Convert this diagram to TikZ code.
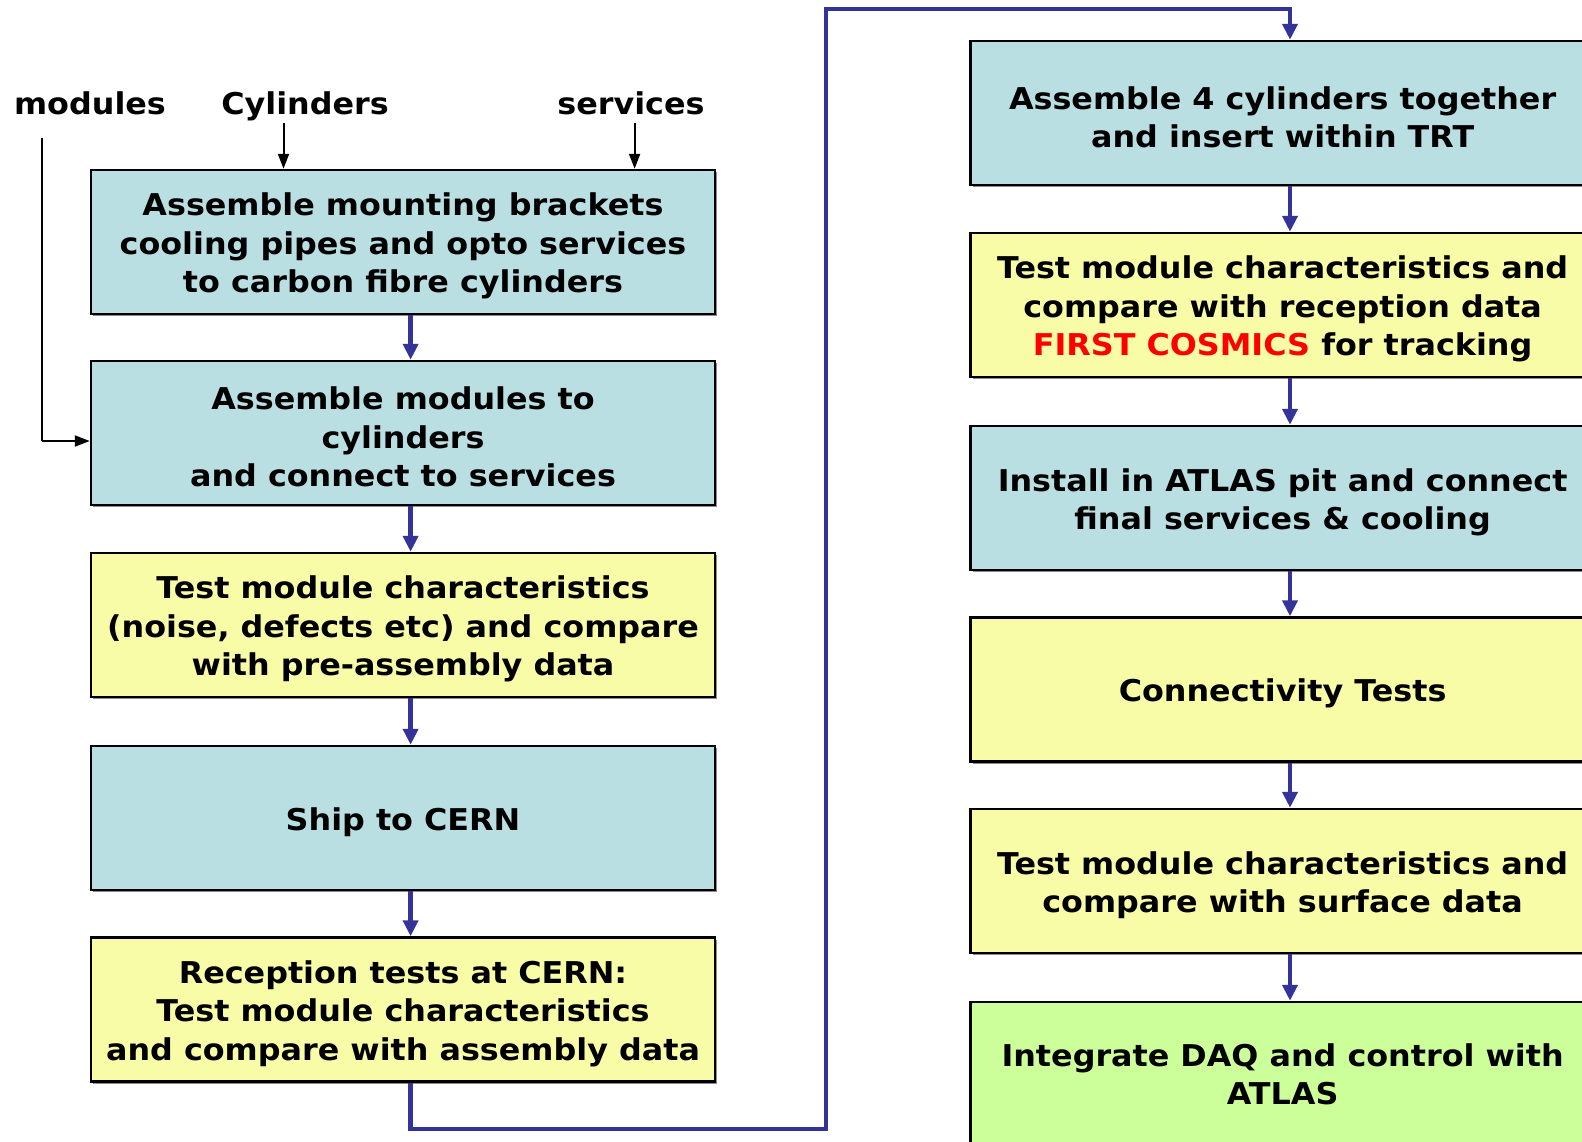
\documentclass[tikz,border=0pt]{standalone}
\usepackage{fontspec}
\setmainfont{DejaVu Sans}[FakeStretch=1.06]
\usetikzlibrary{arrows.meta,shadows,calc}
\definecolor{boxblue}{RGB}{186,223,227}
\definecolor{boxyellow}{RGB}{248,252,166}
\definecolor{boxgreen}{RGB}{204,255,153}
\definecolor{flowblue}{RGB}{51,51,153}
\definecolor{cosmicred}{RGB}{255,0,0}
\newcommand\topstrut{\rule{0pt}{31pt}}
\tikzset{
  stepbox/.style={draw=black, line width=2.5pt, minimum width=624pt, minimum height=144pt,
    inner sep=0pt, align=center, font=\bfseries\fontsize{30}{38.4}\selectfont,
    drop shadow={shadow xshift=2pt, shadow yshift=-2pt, fill=black!45, opacity=1}},
  bluebox/.style={stepbox, fill=boxblue},
  yellowbox/.style={stepbox, fill=boxyellow},
  greenbox/.style={stepbox, fill=boxgreen},
  inlabel/.style={font=\bfseries\fontsize{30}{36}\selectfont, inner sep=0pt, anchor=base},
  flow/.style={draw=flowblue, line width=4.5pt, -{Triangle[width=15pt,length=16pt]}},
  feed/.style={draw=black, line width=2pt, -{Triangle[width=11pt,length=15pt]}},
  feedline/.style={draw=black, line width=2pt}
}
\begin{document}
\begin{tikzpicture}[x=1pt,y=-1pt]
\useasboundingbox (0,0) rectangle (1582,1141);
\clip (0,0) rectangle (1582,1141);
% left column
\node[bluebox] (b1) at (403,242) {\topstrut Assemble mounting brackets\\cooling pipes and opto services\\to carbon fibre cylinders};
\node[bluebox] (b2) at (403,433) {\topstrut Assemble modules to\\cylinders\\and connect to services};
\node[yellowbox] (b3) at (403,625) {\topstrut Test module characteristics\\(noise, defects etc) and compare\\with pre-assembly data};
\node[bluebox] (b4) at (403,818) {\topstrut Ship to CERN};
\node[yellowbox] (b5) at (403,1009.5) {\topstrut Reception tests at CERN:\\Test module characteristics\\and compare with assembly data};
% right column
\node[bluebox] (r1) at (1282.6,113) {\topstrut Assemble 4 cylinders together\\and insert within TRT};
\node[yellowbox] (r2) at (1282.6,305) {\topstrut Test module characteristics and\\compare with reception data\\{\color{cosmicred}FIRST COSMICS} for tracking};
\node[bluebox] (r3) at (1282.6,498) {\topstrut Install in ATLAS pit and connect\\final services \& cooling};
\node[yellowbox] (r4) at (1282.6,689.5) {\topstrut Connectivity Tests};
\node[yellowbox] (r5) at (1282.6,881) {\topstrut Test module characteristics and\\compare with surface data};
\node[greenbox] (r6) at (1282.6,1074) {Integrate DAQ and control with\\ATLAS};
% input labels
\node[inlabel] (lmod) at (90,114) {modules};
\node[inlabel] (lcyl) at (305,114) {Cylinders};
\node[inlabel] (lser) at (631,114) {services};
% arrow columns
\coordinate (ax) at (410.6,0);
\coordinate (rx) at (1290,0);
\coordinate (cyx) at (283.5,0);
\coordinate (svx) at (634.6,0);
\coordinate (mstart) at (42.4,138);
\coordinate (mcorner) at (42.4,441);
\coordinate (lbot) at (410.6,1129);
\coordinate (mid1) at (826,1129);
\coordinate (mid2) at (826,9);
\coordinate (rtop) at (1290,9);
% input arrows
\draw[feed] (cyx |- 0,123) -- (b1.north -| cyx);
\draw[feed] (svx |- 0,123) -- (b1.north -| svx);
\draw[feedline] (mstart) -- (mcorner);
\draw[feed] (mcorner) -- (b2.west |- mcorner);
% left flow
\draw[flow] (b1.south -| ax) -- (b2.north -| ax);
\draw[flow] (b2.south -| ax) -- (b3.north -| ax);
\draw[flow] (b3.south -| ax) -- (b4.north -| ax);
\draw[flow] (b4.south -| ax) -- (b5.north -| ax);
% crossover
\draw[flow] (b5.south -| ax) -- (lbot) -- (mid1) -- (mid2) -- (rtop) -- (r1.north -| rx);
% right flow
\draw[flow] (r1.south -| rx) -- (r2.north -| rx);
\draw[flow] (r2.south -| rx) -- (r3.north -| rx);
\draw[flow] (r3.south -| rx) -- (r4.north -| rx);
\draw[flow] (r4.south -| rx) -- (r5.north -| rx);
\draw[flow] (r5.south -| rx) -- (r6.north -| rx);
\end{tikzpicture}
\end{document}
